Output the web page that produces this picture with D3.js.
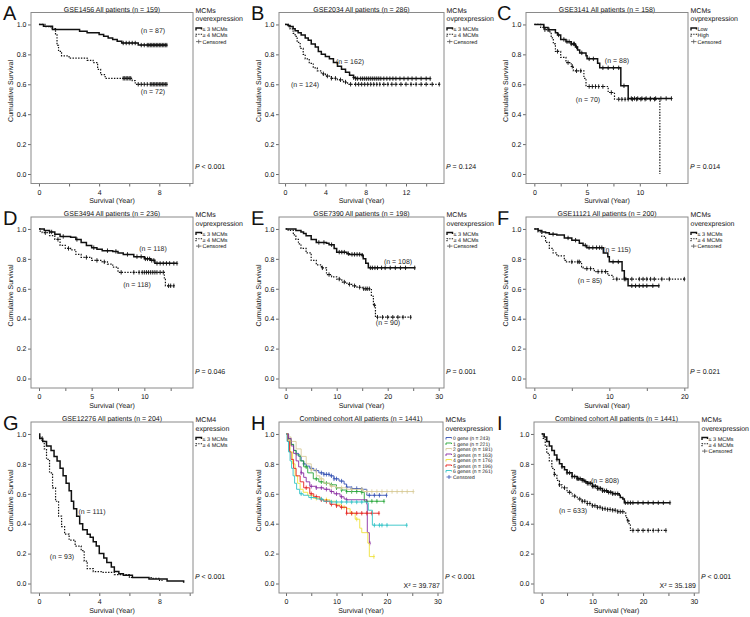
<!DOCTYPE html>
<html><head><meta charset="utf-8">
<script src="https://cdn.jsdelivr.net/npm/d3@7"></script>
<style>
body{margin:0;background:#fff}
text{font-family:"Liberation Sans",Arial,Helvetica,sans-serif;fill:#111;-webkit-font-smoothing:antialiased;text-rendering:geometricPrecision}
</style>
</head><body>
<svg id="c" width="750" height="617"></svg>
<script>
// ---------------- DATA ----------------
const panelLetters = ["A","B","C","D","E","F","G","H","I"];
const panelTitles = [
  "GSE1456 All patients (n = 159)","GSE2034 All patients (n = 286)","GSE3141 All patients (n = 158)",
  "GSE3494 All patients (n = 236)","GSE7390 All patients (n = 198)","GSE11121 All patients (n = 200)",
  "GSE12276 All patients (n = 204)","Combined cohort All patients (n = 1441)","Combined cohort All patients (n = 1441)"];
const legendHeads = [
  ["MCMs","overexpression"],["MCMs","ovprexpression"],["MCMs","ovprexpression"],
  ["MCMs","ovprexpression"],["MCMs","overexpression"],["MCMs","overexpresion"],
  ["MCM4","expression"],["MCMs","overexpression"],["MCMs","overexpression"]];
const twoGroupLabels = ["≤ 3 MCMs","≥ 4 MCMs","Censored"];
const lowHighLabels = ["Low","High","Censored"];
const gLabels = ["≤ 3 MCMs","≥ 4 MCMs"];
const hLabels = ["0 gene (n = 243)","1 gene (n = 221)","2 genes (n = 181)","3 genes (n = 163)",
  "4 genes (n = 176)","5 genes (n = 196)","6 genes (n = 261)","Censored"];
const pValues = ["< 0.001","= 0.124","= 0.014","= 0.046","= 0.001","= 0.021","< 0.001","< 0.001","< 0.001"];
const chiValues = ["","","","","","","","X² = 39.787","X² = 35.189"];
const yTickValues = [0,0.2,0.4,0.6,0.8,1.0];
const xDomains = [[-0.53,10.24],[-0.6,15.77],[-0.79,14.57],[-0.76,14.62],[-1.31,31.04],[-1.11,20.49],[-0.53,10.22],[-1.39,31.09],[-1.52,31.03]];
const xTicks = [[0,2,4,6,8,10],[0,2,4,6,8,10,12,14],[0,2.5,5,7.5,10,12.5],[0,2.5,5,7.5,10,12.5],
  [0,5,10,15,20,25,30],[0,5,10,15,20],[0,2,4,6,8,10],[0,5,10,15,20,25,30],[0,5,10,15,20,25,30]];
const xTickLabels = [[0,4,8],[0,4,8,12],[0,5,10],[0,5,10],[0,10,20,30],[0,10,20],[0,4,8],[0,10,20,30],[0,10,20,30]];

// Kaplan-Meier steps [year, survival]; censor times
const aLowSteps = [[0,1],[0.3,0.988],[0.9,0.966],[2.7,0.955],[3.2,0.944],[4.0,0.933],[4.3,0.922],[4.6,0.91],[4.9,0.899],[5.2,0.888],[5.5,0.876],[6.6,0.862],[8.5,0.862]];
const aLowCens = [5.6,5.8,6.0,6.2,6.4,6.8,7.0,7.2,7.3,7.4,7.5,7.6,7.7,7.8,7.9,8.0,8.1,8.2,8.3,8.4,8.5];
const aHighSteps = [[0,1],[0.4,0.986],[0.8,0.972],[1.1,0.93],[1.2,0.86],[1.3,0.82],[1.5,0.79],[2.0,0.775],[3.2,0.76],[3.6,0.745],[3.9,0.70],[4.1,0.665],[4.4,0.64],[6.2,0.625],[6.4,0.60],[8.5,0.60]];
const aHighCens = [5.6,5.7,5.8,5.9,6.0,6.1,6.6,6.8,7.0,7.2,7.4,7.5,7.6,7.7,7.8,7.9,8.0,8.1,8.2,8.3,8.4,8.5];

const bLowSteps = [[0,1],[0.3,0.993],[0.5,0.986],[0.8,0.972],[1.0,0.958],[1.3,0.944],[1.6,0.93],[2.0,0.91],[2.3,0.895],[2.6,0.87],[3.0,0.85],[3.3,0.82],[3.6,0.80],[4.0,0.785],[4.4,0.77],[4.8,0.745],[5.2,0.72],[5.6,0.70],[6.0,0.68],[6.4,0.66],[6.8,0.645],[7.0,0.638],[14.4,0.638]];
const bLowCens = [6.8,7.0,7.2,7.5,7.7,7.9,8.1,8.3,8.5,8.7,8.9,9.1,9.3,9.5,9.8,10.1,10.4,10.7,11.0,11.4,11.8,12.2,12.6,13.0,13.5,14.0,14.4];
const bHighSteps = [[0,1],[0.3,0.985],[0.5,0.97],[0.8,0.94],[1.0,0.92],[1.2,0.88],[1.5,0.84],[1.8,0.80],[2.0,0.77],[2.4,0.74],[2.8,0.71],[3.2,0.69],[3.6,0.67],[4.0,0.655],[4.6,0.64],[5.2,0.63],[5.8,0.615],[6.2,0.60],[15.3,0.60]];
const bHighCens = [3.8,4.2,4.6,5.0,5.5,6.0,6.5,7.0,7.3,7.6,7.9,8.2,8.5,8.8,9.1,9.4,9.8,10.2,10.6,11.0,11.5,12.0,12.5,13.0,13.5,14.0,14.6,15.3];

const cLowSteps = [[0,1],[0.9,0.98],[1.3,0.965],[2.0,0.945],[2.2,0.93],[2.5,0.90],[3.0,0.885],[3.5,0.87],[3.9,0.85],[4.1,0.83],[4.3,0.81],[4.9,0.79],[5.0,0.77],[6.0,0.74],[6.2,0.71],[8.2,0.59],[8.9,0.505],[13.0,0.505]];
const cLowCens = [0.9,1.4,2.3,2.8,3.1,3.3,3.5,3.7,3.8,4.0,4.5,5.2,5.6,6.5,7.0,7.5,8.0,8.5,9.2,9.5,9.8,10.2,10.6,11.0,11.5,12.0,12.5,13.0];
const cHighSteps = [[0,1],[0.6,0.98],[1.0,0.965],[1.3,0.95],[1.6,0.91],[1.8,0.87],[2.0,0.82],[2.5,0.78],[3.0,0.745],[3.5,0.72],[3.7,0.69],[4.7,0.64],[4.9,0.585],[7.0,0.545],[7.6,0.50],[11.9,0.0]];
const cHighCens = [1.0,2.2,3.2,3.6,4.0,4.4,5.2,5.5,5.8,6.1,6.5,7.3,8.0,8.3,8.6,8.9,9.3,9.7,10.1,10.5,11.0,11.4];

const dLowSteps = [[0,1],[0.5,0.99],[1.0,0.98],[1.5,0.965],[2.0,0.95],[3.0,0.945],[3.5,0.93],[4.0,0.91],[4.5,0.89],[5.0,0.875],[5.5,0.865],[6.0,0.855],[7.0,0.85],[7.5,0.84],[8.0,0.83],[9.0,0.815],[10.0,0.80],[10.6,0.79],[11.0,0.77],[13.1,0.77]];
const dLowCens = [1.2,2.3,3.6,5.2,6.5,7.3,8.4,9.3,9.7,10.1,10.3,10.5,10.7,10.9,11.2,11.5,11.8,12.1,12.4,12.8,13.1];
const dHighSteps = [[0,1],[0.1,0.985],[0.3,0.975],[1.0,0.955],[1.5,0.93],[2.0,0.89],[2.5,0.87],[3.0,0.86],[3.5,0.83],[4.0,0.81],[5.0,0.79],[6.0,0.78],[6.5,0.765],[7.0,0.745],[7.5,0.71],[11.9,0.665],[12.0,0.62],[12.8,0.62]];
const dHighCens = [0.6,1.8,2.8,4.5,5.5,6.2,7.8,9.0,9.5,9.8,10.0,10.2,10.4,10.6,10.8,11.0,11.2,11.5,11.8,12.3,12.5,12.8];

const eLowSteps = [[0,1],[2.0,0.99],[3.0,0.98],[3.5,0.97],[4.0,0.955],[5.0,0.93],[6.0,0.91],[8.0,0.905],[8.5,0.895],[9.5,0.87],[10.0,0.845],[12.0,0.835],[12.5,0.83],[15.0,0.825],[15.2,0.80],[15.7,0.77],[16.2,0.74],[25.3,0.74]];
const eLowCens = [6.5,7.5,9.0,10.5,11.0,11.5,12.3,13.0,13.5,14.0,14.5,15.0,16.6,17.0,17.5,18.0,18.8,19.5,20.5,21.5,22.5,23.5,25.3];
const eHighSteps = [[0,1],[0.5,0.99],[1.5,0.96],[2.0,0.93],[2.5,0.90],[3.0,0.87],[4.0,0.84],[5.0,0.79],[6.0,0.76],[7.0,0.74],[8.0,0.695],[9.0,0.68],[10.0,0.665],[11.0,0.645],[12.0,0.63],[13.0,0.62],[14.0,0.61],[15.0,0.60],[16.8,0.55],[17.2,0.49],[17.6,0.41],[24.5,0.41]];
const eHighCens = [7.2,8.5,10.5,11.5,12.5,13.5,14.5,15.3,15.7,16.0,16.4,17.4,18.0,19.0,20.0,21.0,22.0,23.0,24.5];

const fLowSteps = [[0,1],[0.5,0.99],[1.0,0.98],[1.5,0.975],[2.0,0.965],[3.0,0.96],[4.0,0.94],[5.0,0.925],[6.0,0.905],[6.5,0.89],[7.0,0.875],[9.2,0.84],[9.8,0.815],[10.0,0.78],[11.7,0.72],[12.0,0.665],[12.5,0.62],[16.6,0.62]];
const fLowCens = [2.5,4.5,5.5,6.8,7.3,7.8,8.3,8.7,9.0,10.5,11.2,12.2,13.0,13.5,14.0,14.5,15.0,15.8,16.6];
const fHighSteps = [[0,1],[0.5,0.98],[1.0,0.95],[1.5,0.91],[2.0,0.87],[2.5,0.84],[3.0,0.82],[4.0,0.79],[4.2,0.78],[6.3,0.745],[6.5,0.735],[8.0,0.715],[9.8,0.69],[10.5,0.665],[20.0,0.665]];
const fHighCens = [5.0,5.8,6.0,7.0,7.5,8.5,9.0,9.5,11.0,12.0,13.0,14.0,14.5,15.0,15.5,16.0,17.0,18.0,20.0];

const gLowSteps = [[0,1],[0.05,0.97],[0.25,0.95],[0.5,0.92],[0.8,0.89],[1.0,0.85],[1.2,0.82],[1.4,0.77],[1.6,0.72],[1.8,0.67],[2.0,0.62],[2.15,0.55],[2.3,0.50],[2.5,0.45],[2.7,0.40],[2.9,0.36],[3.2,0.33],[3.4,0.31],[3.6,0.28],[3.8,0.25],[4.0,0.20],[4.3,0.17],[4.5,0.14],[4.8,0.11],[5.0,0.08],[5.3,0.065],[5.6,0.055],[6.2,0.04],[7.3,0.03],[8.5,0.016],[9.6,0.005]];
const gLowCens = [];
const gHighSteps = [[0,0.98],[0.2,0.95],[0.35,0.90],[0.5,0.83],[0.7,0.74],[0.9,0.64],[1.1,0.55],[1.3,0.45],[1.5,0.38],[1.7,0.33],[2.0,0.29],[2.4,0.25],[2.8,0.22],[3.0,0.15],[3.2,0.10],[3.6,0.08],[4.2,0.075],[5.0,0.06],[6.0,0.04],[7.5,0.035],[8.0,0.02],[8.2,0.02]];
const gHighCens = [];

const h0Steps = [[0,1],[0.5,0.96],[1.0,0.93],[1.5,0.89],[2.0,0.87],[2.5,0.85],[3.0,0.82],[3.5,0.80],[4.0,0.785],[4.7,0.77],[5.5,0.755],[6.5,0.74],[7.5,0.73],[8.7,0.72],[9.5,0.70],[10.5,0.685],[11.5,0.665],[12.0,0.645],[13.0,0.635],[15.0,0.63],[16.0,0.59],[19.9,0.59]];
const h0Cens = [3.5,5,6,7,7.5,8,8.5,9,9.5,10,11,12,13,14,15,16.5,17.5,18.5,19.9];
const h1Steps = [[0,1],[0.5,0.97],[1.0,0.93],[1.5,0.89],[2.0,0.86],[2.8,0.82],[3.5,0.78],[4.3,0.74],[5.4,0.70],[6.5,0.68],[7.5,0.67],[8.7,0.66],[10.0,0.64],[11.0,0.625],[12.0,0.615],[15.0,0.61],[15.5,0.55],[19.4,0.55]];
const h1Cens = [4,6,7,8,9,10,11,12,13,14,15,16,17,18,19.4];
const h2Steps = [[0,1],[0.5,0.98],[1.0,0.95],[2.0,0.90],[3.0,0.85],[4.0,0.80],[5.0,0.76],[6.0,0.72],[6.7,0.70],[7.5,0.67],[8.7,0.65],[10.0,0.64],[12.0,0.63],[15.3,0.615],[25.2,0.615]];
const h2Cens = [5,7,9,11,13,15,16,17,18,19,20,21,22,23,24,25.2];
const h3Steps = [[0,1],[0.5,0.97],[1.0,0.92],[1.5,0.87],[2.0,0.82],[2.5,0.78],[3.0,0.74],[3.5,0.71],[4.0,0.68],[4.7,0.65],[6.0,0.64],[7.5,0.63],[8.7,0.615],[9.5,0.60],[10.7,0.58],[11.5,0.565],[12.0,0.56],[16.0,0.53],[16.1,0.34],[16.5,0.27],[16.6,0.27]];
const h3Cens = [3,5,6,7,8,9,10,11,12,16.6];
const h4Steps = [[0,1],[0.3,0.96],[0.8,0.88],[1.3,0.80],[1.8,0.72],[2.3,0.67],[2.8,0.63],[3.4,0.61],[4.3,0.59],[5.4,0.57],[7.0,0.56],[8.7,0.55],[10.0,0.53],[11.0,0.51],[12.0,0.50],[12.7,0.47],[13.7,0.43],[14.6,0.37],[15.0,0.34],[16.2,0.27],[16.5,0.18],[17.4,0.18]];
const h4Cens = [6,8,10,11.5,13,14,17.4];
const h5Steps = [[0,1],[0.3,0.95],[0.7,0.88],[1.0,0.83],[1.5,0.77],[2.0,0.72],[2.8,0.68],[3.5,0.64],[4.7,0.60],[5.5,0.58],[6.7,0.56],[7.5,0.55],[8.7,0.53],[10.0,0.52],[10.7,0.51],[12.0,0.47],[18.4,0.47]];
const h5Cens = [4,5,6,7,8,9,10,11,12,13,14,15,16,17,18.4];
const h6Steps = [[0,1],[0.2,0.95],[0.5,0.88],[0.8,0.82],[1.1,0.77],[1.4,0.72],[1.7,0.67],[2.1,0.63],[2.7,0.60],[3.4,0.59],[4.5,0.575],[6.0,0.565],[7.4,0.55],[9.0,0.545],[16.0,0.54],[16.3,0.49],[17.1,0.39],[23.9,0.39]];
const h6Cens = [3,5,7,9,10,11,12,13,14,15,17.5,18.5,19,20,23.9];

const iLowSteps = [[0,1],[0.5,0.98],[1.0,0.95],[1.5,0.92],[2.0,0.89],[2.5,0.86],[3.0,0.83],[3.5,0.80],[4.0,0.78],[4.5,0.76],[5.0,0.74],[6.0,0.715],[7.0,0.70],[8.0,0.69],[8.5,0.68],[9.0,0.67],[10.0,0.65],[11.0,0.635],[12.0,0.62],[13.0,0.61],[14.0,0.60],[15.3,0.59],[15.5,0.575],[16.0,0.565],[16.3,0.54],[25.3,0.54]];
const iLowCens = [3,4,5,5.5,6,6.5,7,7.3,7.6,8,8.3,8.7,9,9.3,9.6,10,10.3,10.6,11,11.3,11.6,12,12.4,12.8,13.2,13.6,14,14.5,15,16.5,17,17.5,18,19,20,21,22,23,24,25.3];
const iHighSteps = [[0,1],[0.3,0.97],[0.7,0.92],[1.0,0.87],[1.5,0.82],[2.0,0.77],[2.5,0.73],[3.0,0.69],[3.5,0.66],[4.0,0.64],[5.0,0.61],[6.0,0.585],[7.0,0.565],[8.0,0.55],[9.0,0.535],[10.0,0.52],[11.0,0.51],[12.0,0.50],[13.0,0.495],[14.0,0.49],[15.0,0.48],[16.3,0.47],[16.6,0.44],[16.9,0.42],[17.2,0.40],[17.5,0.355],[24.5,0.355]];
const iHighCens = [2.5,3.5,4.5,5.5,6.5,7.5,8,8.5,9,9.5,10,10.5,11,11.5,12,12.5,13,13.5,14,14.5,15,15.5,16,17,18,19,20,21,22,23,24.5];

// group-size annotations: [text, year, survival]
const nLabels = [
  [["(n = 87)",7.6,0.962],["(n = 72)",7.6,0.55]],
  [["(n = 162)",6.45,0.755],["(n = 124)",1.98,0.60]],
  [["(n = 88)",7.84,0.76],["(n = 70)",5.09,0.50]],
  [["(n = 118)",10.8,0.87],["(n = 118)",9.3,0.63]],
  [["(n = 108)",22.0,0.785],["(n = 90)",20.0,0.376]],
  [["(n = 115)",11.0,0.866],["(n = 85)",7.4,0.658]],
  [["(n = 111)",3.5,0.483],["(n = 93)",1.53,0.18]],
  [],
  [["(n = 808)",12.5,0.687],["(n = 633)",6.2,0.49]]];

const hColors = ["#3350b4","#26a639","#d8cb98","#8a2ea3","#efe23c","#e5231f","#30c3c6"];

// ---------------- BUILD ----------------
const two = (ls,lc,hs,hc)=>[{steps:ls,cens:lc,dash:false,color:"#111"},{steps:hs,cens:hc,dash:true,color:"#111"}];
const hCensAll = [h0Cens,h1Cens,h2Cens,h3Cens,h4Cens,h5Cens,h6Cens];
const series = [
  two(aLowSteps,aLowCens,aHighSteps,aHighCens),
  two(bLowSteps,bLowCens,bHighSteps,bHighCens),
  two(cLowSteps,cLowCens,cHighSteps,cHighCens),
  two(dLowSteps,dLowCens,dHighSteps,dHighCens),
  two(eLowSteps,eLowCens,eHighSteps,eHighCens),
  two(fLowSteps,fLowCens,fHighSteps,fHighCens),
  two(gLowSteps,gLowCens,gHighSteps,gHighCens),
  [h0Steps,h1Steps,h2Steps,h3Steps,h4Steps,h5Steps,h6Steps].map((s,k)=>({steps:s,cens:hCensAll[k],dash:false,color:hColors[k],thin:true})),
  two(iLowSteps,iLowCens,iHighSteps,iHighCens)];
const legends = [twoGroupLabels,twoGroupLabels,lowHighLabels,twoGroupLabels,twoGroupLabels,twoGroupLabels,gLabels,hLabels,twoGroupLabels];

// layout (positions)
const layout = [
  {l:31,t:12.5,w:162},{l:279,t:12.5,w:165},{l:526,t:12.5,w:162},
  {l:31,t:217,w:162},{l:279,t:217,w:165},{l:526,t:217,w:162},
  {l:31,t:422,w:162},{l:279,t:422,w:164},{l:534,t:422,w:165}];
const boxH = 171;
const letterPos = [[3,20],[251,20],[497,20],[3,225],[251,225],[497,225],[3,430],[251,430],[497,430]];

const svg = d3.select("#c");
const survAt = (steps,t)=>{const i=d3.bisector(d=>d[0]).right(steps,t)-1;return steps[Math.max(0,i)][1];};

layout.forEach((L,i)=>{
  const g = svg.append("g");
  const B = L.t+boxH, R = L.l+L.w;
  const x = d3.scaleLinear().domain(xDomains[i]).range([L.l,R]);
  const y = d3.scaleLinear().domain([-0.0635,1.08]).range([B,L.t]);

  g.append("text").attr("x",letterPos[i][0]).attr("y",letterPos[i][1]).attr("font-size",20).text(panelLetters[i]);
  g.append("text").attr("x",L.l+L.w/2).attr("y",L.t-0.8).attr("font-size",7).attr("text-anchor","middle").text(panelTitles[i]);

  // axes
  const xa = g.append("g").attr("transform",`translate(0,${B})`)
    .call(d3.axisBottom(x).tickValues(xTicks[i]).tickSize(3).tickPadding(3.5)
      .tickFormat(d=>xTickLabels[i].includes(d)?String(d):""));
  const ya = g.append("g").attr("transform",`translate(${L.l},0)`)
    .call(d3.axisLeft(y).tickValues(yTickValues).tickSize(3).tickPadding(1.5).tickFormat(d3.format(".1f")));
  [xa,ya].forEach(a=>{
    a.select(".domain").remove();
    a.selectAll(".tick line").attr("stroke","#444").attr("stroke-width",0.8);
    a.selectAll(".tick text").attr("font-size",7).style("font-family",'"Liberation Sans",Arial,sans-serif').style("fill","#111");
  });
  g.append("rect").attr("x",L.l).attr("y",L.t).attr("width",L.w).attr("height",boxH)
    .attr("fill","none").attr("stroke","#8a8a8a").attr("stroke-width",1);

  g.append("text").attr("x",L.l+L.w/2).attr("y",B+19.5).attr("font-size",7).attr("text-anchor","middle").text("Survival (Year)");
  g.append("text").attr("transform",`translate(${L.l-18},${L.t+boxH/2-7}) rotate(-90)`).attr("font-size",7).attr("text-anchor","middle").text("Cumulative Survival");

  // curves
  const line = d3.line().x(d=>x(d[0])).y(d=>y(d[1])).curve(d3.curveStepAfter);
  series[i].forEach(s=>{
    g.append("path").attr("d",line(s.steps)).attr("fill","none").attr("stroke",s.color)
      .attr("stroke-width",s.thin?0.9:(s.dash?1.2:1.5))
      .attr("stroke-dasharray",s.dash?"1.4,1.4":null);
    g.selectAll(null).data(s.cens).enter().append("path")
      .attr("d",t=>{const px=x(t),py=y(survAt(s.steps,t));return `M${px},${py-2.2}V${py+2.2}M${px-1.2},${py}H${px+1.2}`;})
      .attr("stroke",s.color).attr("stroke-width",s.thin?0.8:0.9).attr("fill","none");
  });

  // n labels
  nLabels[i].forEach(n=>{
    g.append("text").attr("x",Math.round(x(n[1]))).attr("y",Math.round(y(n[2])+2.5)).attr("font-size",7).attr("text-anchor","middle").style("fill","#222").text(n[0]);
  });

  // P value
  const pt = g.append("text").attr("x",R+2).attr("y",B-14.5).attr("font-size",7);
  pt.append("tspan").attr("font-style","italic").text("P");
  pt.append("tspan").text(" "+pValues[i]);
  if(chiValues[i]) g.append("text").attr("x",R-3).attr("y",B-5.5).attr("font-size",7).attr("text-anchor","end").text(chiValues[i]);

  // legend
  const lx = R+2.5;
  g.append("text").attr("x",lx).attr("y",L.t).attr("font-size",7).text(legendHeads[i][0]);
  g.append("text").attr("x",lx).attr("y",L.t+8.5).attr("font-size",7).text(legendHeads[i][1]);
  const labs = legends[i];
  if(i===7){
    labs.forEach((lab,k)=>{
      const yy = L.t+16.5+5.5*k;
      if(k<7){
        g.append("path").attr("d",`M${lx+0.5},${yy+1}V${yy-1}H${lx+6}V${yy}`).attr("fill","none").attr("stroke",hColors[k]).attr("stroke-width",0.9);
      } else {
        g.append("path").attr("d",`M${lx+1},${yy}H${lx+6}M${lx+3.5},${yy-2}V${yy+2}`).attr("fill","none").attr("stroke",hColors[0]).attr("stroke-width",0.8);
      }
      g.append("text").attr("x",lx+7.5).attr("y",yy+1.8).attr("font-size",5).text(lab);
    });
  } else {
    labs.forEach((lab,k)=>{
      const yy = L.t+16.5+6.3*k;
      if(k===0){
        g.append("path").attr("d",`M${lx+0.5},${yy+1.5}V${yy-1}H${lx+6}V${yy+0.5}`).attr("fill","none").attr("stroke","#111").attr("stroke-width",1.4);
      } else if(k===1){
        g.append("path").attr("d",`M${lx+0.5},${yy+1.5}V${yy-1}H${lx+6}V${yy+0.5}`).attr("fill","none").attr("stroke","#111").attr("stroke-width",1.1).attr("stroke-dasharray","1.2,1.2");
      } else {
        g.append("path").attr("d",`M${lx+0.5},${yy}H${lx+6}M${lx+3.2},${yy-2}V${yy+2}`).attr("fill","none").attr("stroke","#555").attr("stroke-width",0.8);
      }
      g.append("text").attr("x",lx+7).attr("y",yy+2).attr("font-size",5.5).text(lab);
    });
  }
});
</script>
</body></html>
